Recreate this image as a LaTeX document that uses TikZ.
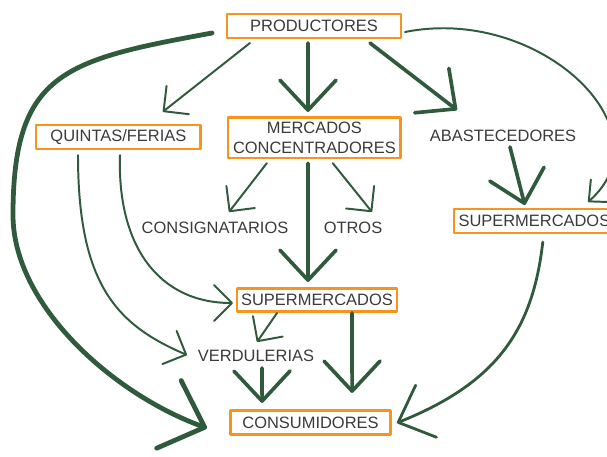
\documentclass[tikz,border=0pt]{standalone}
\usepackage{fontspec}
\setmainfont{Liberation Sans}
\usetikzlibrary{arrows.meta}
\definecolor{flowgreen}{HTML}{2F5A3C}
\definecolor{boxorange}{HTML}{F7941D}
\definecolor{textgray}{HTML}{3A3A3A}
\begin{document}
\begin{tikzpicture}
[
 font=\fontsize{11.7}{14}\selectfont,
 text=textgray,
 align=center,
 inner sep=0.5mm,
 line cap=round,
 line join=round,
 box/.style={draw=boxorange,line width=2.1pt,rectangle,minimum height=0.6cm},
 word/.style={rectangle},
 flow/.style={draw=flowgreen,line width=1.4pt,-{Straight Barb[length=0.45cm,width=0.9cm,round]}},
 bigflow/.style={draw=flowgreen,line width=2.6pt,-{Straight Barb[length=0.75cm,width=1.4cm,round]}},
 hugeflow/.style={draw=flowgreen,line width=3.4pt,-{Straight Barb[length=0.95cm,width=1.8cm,round]}}
]
\useasboundingbox (0,0) rectangle (15.175,-11.425);
% nodes
\node (productores) [box,minimum width=4.35cm] at (7.85,-0.65) {PRODUCTORES};
\node (quintas) [box,minimum width=4.12cm] at (2.96,-3.425) {QUINTAS/FERIAS};
\node (mercados) [box,minimum width=4.32cm,minimum height=1.02cm] at (7.86,-3.44) {MERCADOS\\CONCENTRADORES};
\node (abastecedores) [word] at (12.575,-3.4) {ABASTECEDORES};
\node (superder) [box,minimum width=4.02cm] at (13.36,-5.525) {SUPERMERCADOS};
\node (consignatarios) [word] at (5.375,-5.7) {CONSIGNATARIOS};
\node (otros) [word] at (8.825,-5.7) {OTROS};
\node (supermedio) [box,minimum width=4.0cm,minimum height=0.58cm] at (7.925,-7.5) {SUPERMERCADOS};
\node (verdulerias) [word] at (6.4,-8.9) {VERDULERIAS};
\node (consumidores) [box,minimum width=4.02cm] at (7.7625,-10.5625) {CONSUMIDORES};
% from productores
\draw[flow] ([shift={(-1.6,-0.425)}]productores.center) -- ([shift={(1.11,0.63)}]quintas.center);
\draw[bigflow] ([shift={(-0.15,-0.425)}]productores.center) -- ([shift={(-0.16,0.64)}]mercados.center);
\draw[bigflow] ([shift={(1.4,-0.425)}]productores.center) -- ([shift={(-1.15,0.65)}]abastecedores.center);
\draw[flow,-{Straight Barb[length=0.4cm,width=0.75cm,round]}] ([shift={(2.275,-0.15)}]productores.center)
  .. controls +(3.375,0.675) and +(2.05,1.8) .. ([shift={(1.34,0.475)}]superder.center);
\draw[hugeflow] ([shift={(-2.55,-0.175)}]productores.center)
  .. controls +(-3.675,-0.675) and +(0,3.575) .. ++(-4.975,-4.55)
  .. controls +(0,-2.25) and +(-2.35,0.85) .. ([shift={(-2.59,-0.14)}]consumidores.center);
% from quintas
\draw[flow] ([shift={(0.04,-0.45)}]quintas.center)
  .. controls +(-0.075,-2.25) and +(-1.875,0) .. ([shift={(-2.1,-0.075)}]supermedio.center);
\draw[flow] ([shift={(-1.01,-0.45)}]quintas.center)
  .. controls +(0,-3.25) and +(-1.75,0.75) .. ([shift={(-1.725,0.025)}]verdulerias.center);
% from mercados
\draw[flow] ([shift={(-1.19,-0.64)}]mercados.center) -- ([shift={(0.35,0.4)}]consignatarios.center);
\draw[flow] ([shift={(0.46,-0.64)}]mercados.center) -- ([shift={(0.475,0.4)}]otros.center);
\draw[bigflow] ([shift={(-0.16,-0.64)}]mercados.center) -- ([shift={(-0.225,0.45)}]supermedio.center);
% right side
\draw[bigflow] ([shift={(0.175,-0.275)}]abastecedores.center) -- ([shift={(-0.24,0.4)}]superder.center);
\draw[bigflow,line width=2pt] ([shift={(0.21,-0.525)}]superder.center)
  .. controls +(-0.25,-2.2) and +(2.5,1.0) .. ([shift={(2.16,-0.01)}]consumidores.center);
% to consumidores
\draw[flow] ([shift={(-1.0,-0.325)}]supermedio.center) -- ([shift={(0.025,0.35)}]verdulerias.center);
\draw[bigflow] ([shift={(0.875,-0.325)}]supermedio.center) -- ([shift={(1.04,0.74)}]consumidores.center);
\draw[bigflow] ([shift={(0.15,-0.3)}]verdulerias.center) -- ([shift={(-1.21,0.49)}]consumidores.center);
\end{tikzpicture}
\end{document}
